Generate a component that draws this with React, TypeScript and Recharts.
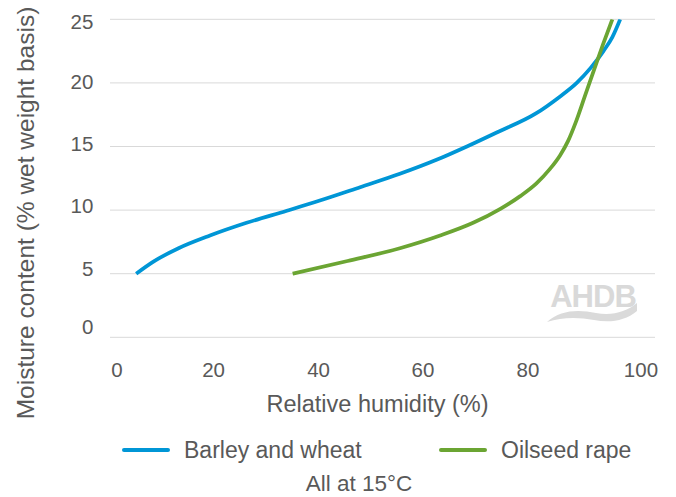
import React from 'react';
import { LineChart, Line, XAxis, YAxis, CartesianGrid, Legend, Customized } from 'recharts';

const xTicks = [0, 20, 40, 60, 80, 100];
const yTicks = [0, 5, 10, 15, 20, 25];

const seriesNames = ['Barley and wheat', 'Oilseed rape'];
const xTitle = 'Relative humidity (%)';
const yTitle = 'Moisture content (% wet weight basis)';
const caption = 'All at 15°C';

const barleyWheat = [
  { x: 4.6, y: 5 }, { x: 7.9, y: 5.95 }, { x: 12.7, y: 7 }, { x: 18.7, y: 8 },
  { x: 25.7, y: 9 }, { x: 33.4, y: 9.95 }, { x: 39.7, y: 10.75 }, { x: 47.4, y: 11.8 },
  { x: 55, y: 12.85 }, { x: 62, y: 13.95 }, { x: 67.8, y: 15 }, { x: 73.5, y: 16.1 },
  { x: 81, y: 17.6 }, { x: 85.5, y: 18.9 }, { x: 88.8, y: 20 }, { x: 91.5, y: 21.2 },
  { x: 93.9, y: 22.5 }, { x: 95.6, y: 23.6 }, { x: 97.1, y: 25 },
];

const oilseedRape = [
  { x: 34.5, y: 5 }, { x: 45, y: 6 }, { x: 55, y: 7 }, { x: 62.7, y: 8 },
  { x: 69, y: 9 }, { x: 74.2, y: 10.1 }, { x: 78, y: 11.1 }, { x: 81.1, y: 12.1 },
  { x: 83.6, y: 13.2 }, { x: 85.6, y: 14.3 }, { x: 87.1, y: 15.4 }, { x: 88.6, y: 16.9 },
  { x: 90.3, y: 18.9 }, { x: 92, y: 20.9 }, { x: 93.8, y: 23 }, { x: 95.6, y: 25 },
];

const FONT = '"Liberation Sans", Arial, Helvetica, sans-serif';
const TEXT = '#595959';
const BLUE = '#0096D6';
const GREEN = '#6BA533';
const GRID = '#D9D9D9';

const xTickShift = [4.9, -3.2, -2.8, -3.1, -2.7, 5.6];
const yTickShift = [-10.3, -5.4, -4.1, -2.5, -1.2, 2.4];
const legendItemX = [124, 441];

const XTick = (props: any) => {
  const { x, y, payload, index } = props;
  return (
    <text x={x + (xTickShift[index] || 0)} y={y + 40} textAnchor="middle" fontSize={20.5} fill={TEXT} fontFamily={FONT}>
      {payload.value}
    </text>
  );
};

const YTick = (props: any) => {
  const { x, y, payload, index } = props;
  return (
    <text x={x - 16.7} y={y + (yTickShift[index] || 0) + 7.3} textAnchor="end" fontSize={20.5} fill={TEXT} fontFamily={FONT}>
      {payload.value}
    </text>
  );
};

const XTitle = (props: any) => {
  const vb = props.viewBox || { x: 0, y: 0, width: 0 };
  return (
    <text x={vb.x + vb.width / 2 - 5} y={vb.y + 74.7} textAnchor="middle" fontSize={23.5} fill={TEXT} fontFamily={FONT}>
      {xTitle}
    </text>
  );
};

const YTitle = () => (
  <text transform="translate(34,213) rotate(-90)" textAnchor="middle" fontSize={24.5} fill={TEXT} fontFamily={FONT}>
    {yTitle}
  </text>
);

const LegendContent = (props: any) => {
  const payload = props.payload || [];
  return (
    <svg width={676} height={67} style={{ display: 'block' }}>
      {payload.map((entry: any, i: number) => (
        <g key={i}>
          <line x1={legendItemX[i]} x2={legendItemX[i] + 44} y1={20} y2={20} stroke={entry.color} strokeWidth={4} strokeLinecap="round" />
          <text x={legendItemX[i] + 60} y={28} fontSize={23} fill={TEXT} fontFamily={FONT}>{entry.value}</text>
        </g>
      ))}
      <text x={359} y={61} textAnchor="middle" fontSize={22.5} fill={TEXT} fontFamily={FONT}>{caption}</text>
    </svg>
  );
};

const Logo = () => (
  <g>
    <text x={593} y={307} textAnchor="middle" fontSize={31} letterSpacing={-1} fontWeight={600} fill="#D9D9D9" fontFamily={FONT}>AHDB</text>
    <path d="M547,322 C560,310 578,309 596,313 C612,316 626,312 637,303 L637,311 C625,321 610,323 594,320 C578,317 562,317 547,322 Z" fill="#DADADA" />
  </g>
);

export default function App() {
  return (
    <div style={{ position: 'absolute', left: 0, top: 0, width: 676, height: 497, background: '#fff' }}>
      <LineChart width={676} height={497} margin={{ top: 19.3, right: 21, bottom: 99.7, left: 0 }}>
        <CartesianGrid vertical={false} stroke={GRID} strokeWidth={1} />
        <XAxis
          type="number"
          dataKey="x"
          domain={[-0.4, 103.75]}
          ticks={xTicks}
          allowDataOverflow
          interval={0}
          axisLine={false}
          tickLine={false}
          tickSize={0}
          tickMargin={0}
          height={60}
          tick={XTick}
          label={<XTitle />}
        />
        <YAxis
          type="number"
          domain={[0, 25]}
          ticks={yTicks}
          allowDataOverflow
          interval={0}
          width={110}
          axisLine={false}
          tickLine={false}
          tickSize={0}
          tickMargin={0}
          tick={YTick}
          label={<YTitle />}
        />
        <Line data={barleyWheat} dataKey="y" name={seriesNames[0]} type="monotone" stroke={BLUE} strokeWidth={3.75} dot={false} isAnimationActive={false} />
        <Line data={oilseedRape} dataKey="y" name={seriesNames[1]} type="monotone" stroke={GREEN} strokeWidth={3.75} dot={false} isAnimationActive={false} />
        <Legend verticalAlign="middle" align="center" layout="horizontal" content={LegendContent} wrapperStyle={{ top: 430, left: 0, width: 676, height: 67 }} />
        <Customized component={Logo} />
      </LineChart>
    </div>
  );
}
